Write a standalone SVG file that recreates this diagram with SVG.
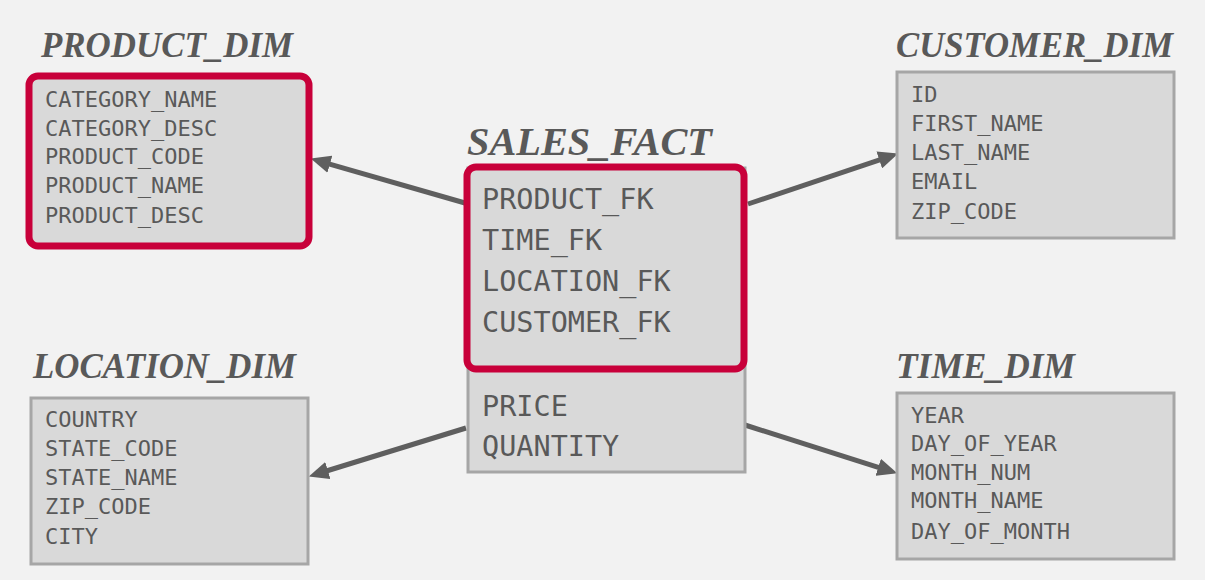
<svg xmlns="http://www.w3.org/2000/svg" width="1205" height="580" viewBox="0 0 1205 580">
<style>
.title{font-family:"Liberation Serif","Times New Roman",serif;font-weight:bold;font-style:italic;fill:#595959}
.f{font-family:"DejaVu Sans Mono","Liberation Mono",monospace;font-size:22px;fill:#595959}
.fl{font-family:"DejaVu Sans Mono","Liberation Mono",monospace;font-size:28.5px;fill:#595959}
.box{fill:#d9d9d9;stroke:#a6a6a6;stroke-width:3}
.hl{fill:#d9d9d9;stroke:#c8003a;stroke-width:7}
.conn{stroke:#5f5f5f;stroke-width:5;fill:none}
</style>
<defs>
<marker id="ah" markerUnits="userSpaceOnUse" markerWidth="20" markerHeight="18" refX="6" refY="8" orient="auto" viewBox="0 0 18 16">
<path d="M0,0 L18,8 L0,16 z" fill="#5f5f5f"/>
</marker>
</defs>
<rect width="1205" height="580" fill="#f2f2f2"/>
<g id="connectors">
<line class="conn" x1="465" y1="203" x2="323.5" y2="162.3" marker-end="url(#ah)"/>
<line class="conn" x1="748" y1="204" x2="885.6" y2="157.8" marker-end="url(#ah)"/>
<line class="conn" x1="466" y1="428" x2="321.5" y2="472.5" marker-end="url(#ah)"/>
<line class="conn" x1="745" y1="425" x2="884.6" y2="469.3" marker-end="url(#ah)"/>
</g>
<g id="product_dim">
<text class="title" x="41" y="57" font-size="35" textLength="252" lengthAdjust="spacingAndGlyphs">PRODUCT_DIM</text>
<rect class="hl" x="29" y="76" width="280" height="170" rx="9"/>
<text class="f" x="45" y="107">CATEGORY_NAME</text>
<text class="f" x="45" y="136">CATEGORY_DESC</text>
<text class="f" x="45" y="164">PRODUCT_CODE</text>
<text class="f" x="45" y="193">PRODUCT_NAME</text>
<text class="f" x="45" y="223">PRODUCT_DESC</text>
</g>
<g id="sales_fact">
<text class="title" x="467" y="155" font-size="41" textLength="245" lengthAdjust="spacingAndGlyphs">SALES_FACT</text>
<rect class="box" x="468" y="168" width="277" height="304"/>
<rect class="hl" x="467" y="167" width="277" height="202" rx="9"/>
<text class="fl" x="482" y="209">PRODUCT_FK</text>
<text class="fl" x="482" y="250">TIME_FK</text>
<text class="fl" x="482" y="291">LOCATION_FK</text>
<text class="fl" x="482" y="332">CUSTOMER_FK</text>
<text class="fl" x="482" y="416">PRICE</text>
<text class="fl" x="482" y="456">QUANTITY</text>
</g>
<g id="customer_dim">
<text class="title" x="896" y="57" font-size="35" textLength="277" lengthAdjust="spacingAndGlyphs">CUSTOMER_DIM</text>
<rect class="box" x="897" y="72" width="277" height="166"/>
<text class="f" x="911" y="102">ID</text>
<text class="f" x="911" y="131">FIRST_NAME</text>
<text class="f" x="911" y="160">LAST_NAME</text>
<text class="f" x="911" y="189">EMAIL</text>
<text class="f" x="911" y="219">ZIP_CODE</text>
</g>
<g id="location_dim">
<text class="title" x="33" y="378" font-size="35" textLength="263" lengthAdjust="spacingAndGlyphs">LOCATION_DIM</text>
<rect class="box" x="31" y="398" width="277" height="166"/>
<text class="f" x="45" y="427">COUNTRY</text>
<text class="f" x="45" y="456">STATE_CODE</text>
<text class="f" x="45" y="485">STATE_NAME</text>
<text class="f" x="45" y="514">ZIP_CODE</text>
<text class="f" x="45" y="544">CITY</text>
</g>
<g id="time_dim">
<text class="title" x="896" y="378" font-size="35" textLength="179" lengthAdjust="spacingAndGlyphs">TIME_DIM</text>
<rect class="box" x="897" y="393" width="277" height="166"/>
<text class="f" x="911" y="423">YEAR</text>
<text class="f" x="911" y="451">DAY_OF_YEAR</text>
<text class="f" x="911" y="480">MONTH_NUM</text>
<text class="f" x="911" y="508">MONTH_NAME</text>
<text class="f" x="911" y="539">DAY_OF_MONTH</text>
</g>
</svg>
